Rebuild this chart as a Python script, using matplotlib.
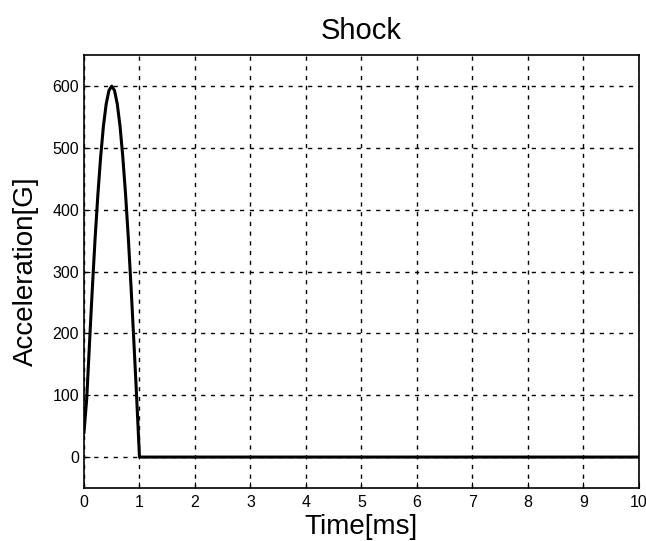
import numpy as np
import matplotlib
matplotlib.use("Agg")
import matplotlib.pyplot as plt

# Half-sine shock pulse (ms, G)
t = [0.0, 0.05, 0.1, 0.15, 0.2, 0.25, 0.3, 0.35, 0.4, 0.45, 0.5,
     0.55, 0.6, 0.65, 0.7, 0.75, 0.8, 0.85, 0.9, 0.95, 1.0, 10.0]
acc = [40, 95, 185, 272, 353, 424, 485, 535, 571, 593, 600,
       593, 571, 535, 485, 424, 353, 272, 185, 95, 0, 0]

xticks = [0, 1, 2, 3, 4, 5, 6, 7, 8, 9, 10]
yticks = [0, 100, 200, 300, 400, 500, 600]

plt.rcParams['font.family'] = ['Liberation Sans', 'DejaVu Sans']

fig = plt.figure(figsize=(6.46, 5.41), dpi=100)
ax = fig.add_axes([0.130, 0.098, 0.859, 0.800])

ax.plot(t, acc, color='black', linewidth=2.2)

ax.set_xlim(0, 10)
ax.set_ylim(-50, 650)
ax.set_xticks(xticks)
ax.set_yticks(yticks)
ax.grid(True, color='black', linestyle=(0, (3, 4)), linewidth=1.0)
ax.tick_params(direction='in', length=4, labelsize=11.5, colors='black')
ax.tick_params(axis='x', pad=5)
for s in ax.spines.values():
    s.set_linewidth(1.2)

ax.set_title('Shock', fontsize=21, pad=12)
ax.set_xlabel('Time[ms]', fontsize=20, labelpad=3)
ax.set_ylabel('Acceleration[G]', fontsize=20, labelpad=10)

fig.savefig('out.png', dpi=100)
